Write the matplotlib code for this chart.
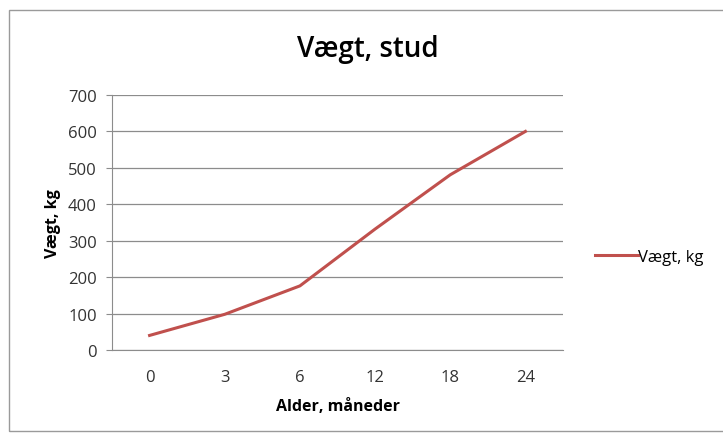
import matplotlib.pyplot as plt
from matplotlib.patches import Rectangle

plt.rcParams['font.family'] = ['Open Sans', 'DejaVu Sans']

ages = ['0', '3', '6', '12', '18', '24']
weights = [40, 98, 176, 332, 481, 600]

fig = plt.figure(figsize=(7.23, 4.39), dpi=100)
W, H = 723, 439
ax = fig.add_axes([112 / W, 1 - 351 / H, 451 / W, 255 / H])

x = range(len(ages))
ax.plot(x, weights, color='#C0504D', lw=2.2, label='Vægt, kg', zorder=3)

ax.set_xlim(-0.5, len(ages) - 0.5)
ax.set_ylim(0, 700)
ax.set_yticks(range(0, 701, 100))
ax.set_xticks(list(x))
ax.set_xticklabels(ages)
ax.grid(axis='y', color='#8c8c8c', lw=0.9)
ax.set_axisbelow(True)
for s in ['top', 'right']:
    ax.spines[s].set_visible(False)
ax.spines['left'].set_color('#8c8c8c')
ax.spines['bottom'].set_color('#8c8c8c')
ax.tick_params(axis='y', length=4, color='#8c8c8c', pad=7, labelsize=12, labelcolor='#333333')
ax.tick_params(axis='x', length=0, pad=14, labelsize=12, labelcolor='#333333')

ax.set_xlabel('Alder, måneder', fontsize=11.5, fontweight='bold', labelpad=9)
ax.set_ylabel('Vægt, kg', fontsize=11.5, fontweight='bold', labelpad=5)
fig.text(368 / W, 1 - 50 / H, 'Vægt, stud', ha='center', va='center', fontsize=20, fontweight='semibold')

ax.legend(loc='center left', bbox_to_anchor=(580 / W, 1 - 258 / H), bbox_transform=fig.transFigure,
          frameon=False, fontsize=12, handlelength=2.6, handletextpad=0.0)

fig.patches.append(Rectangle((9 / W, 1 - 432 / H), 730 / W, 421 / H, transform=fig.transFigure,
                             fill=False, edgecolor='#9a9a9a', lw=1))

fig.savefig('out.png', dpi=100)
